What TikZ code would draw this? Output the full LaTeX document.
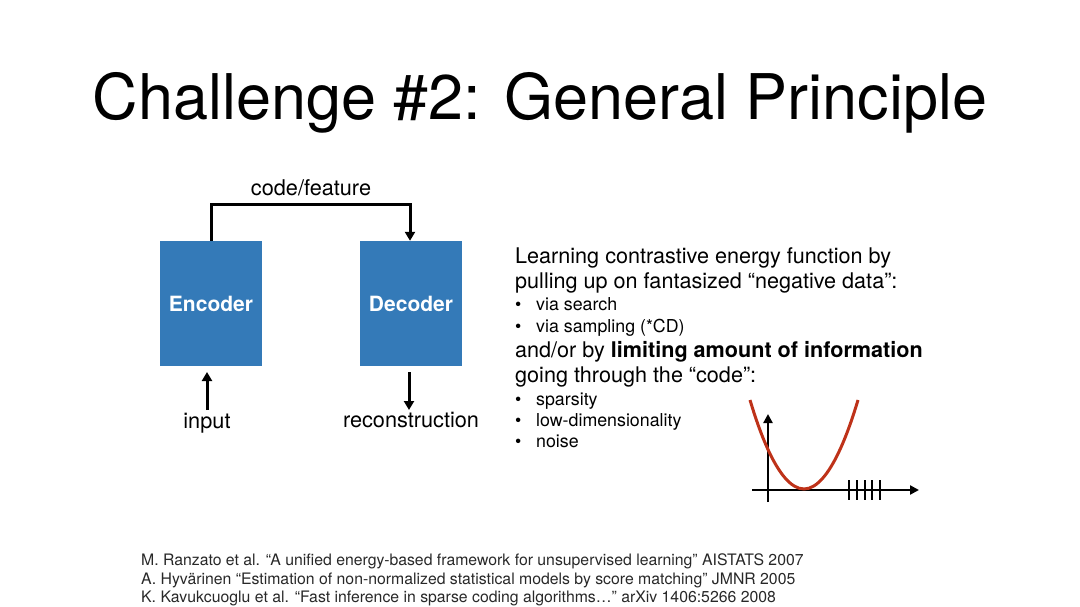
\documentclass[tikz,border=0pt]{standalone}
\usepackage{fontspec}
\setmainfont{TeX Gyre Heros}
\usetikzlibrary{arrows.meta}
\definecolor{boxblue}{RGB}{52,122,184}
\definecolor{curvered}{RGB}{190,50,25}
\definecolor{refgray}{RGB}{40,40,40}
\tikzset{
  blockbox/.style={fill=boxblue, minimum width=102pt, minimum height=125pt, inner sep=0pt, text=white, font=\fontsize{21}{24}\selectfont\bfseries},
  conn/.style={line width=3pt, -{Triangle[length=9pt,width=10pt]}},
  plainline/.style={line width=3pt},
  lbl/.style={inner sep=0pt, font=\fontsize{21.7}{24}\selectfont},
  maintxt/.style={anchor=base west, inner sep=0pt, font=\fontsize{21.6}{24}\selectfont},
  bullettxt/.style={anchor=base west, inner sep=0pt, font=\fontsize{17.8}{20}\selectfont},
  reftxt/.style={anchor=base west, inner sep=0pt, text=refgray, font=\fontsize{15.8}{18}\selectfont},
}
\newcommand{\bul}[1]{\makebox[21pt][l]{•}#1}
\begin{document}
\begin{tikzpicture}[x=1pt,y=-1pt]
\useasboundingbox (0,0) rectangle (1080,607);
% title
\node[anchor=base, inner sep=0pt, font=\fontsize{63}{68}\selectfont] (title) at (540,120) {Challenge \#2: General Principle};
% blocks
\node[blockbox] (enc) at (211,303.5) {Encoder};
\node[blockbox] (dec) at (411,303.5) {Decoder};
\coordinate (cl) at (211,205);
\coordinate (cr) at (410,205);
\draw[plainline] (enc.north -| cl) -- (cl) -- (cr);
\draw[conn] ([yshift=1.5pt]cr) -- (dec.north -| cr);
\node[lbl] (code) at (311,188) {code/feature};
% input / reconstruction
\node[lbl] (input) at (207,423) {input};
\node[lbl] (recon) at (411,420) {reconstruction};
\coordinate (inbot) at (207,410);
\coordinate (intop) at (207,372);
\draw[conn] (inbot) -- (intop);
\coordinate (rtop) at (409,372);
\coordinate (rbot) at (409,410);
\draw[conn] (rtop) -- (rbot);
% right text
\node[maintxt] (l1) at (515,263) {Learning contrastive energy function by};
\node[maintxt] (l2) at (515,288) {pulling up on fantasized “negative data”:};
\node[bullettxt] (b1) at (515,310) {\bul{via search}};
\node[bullettxt] (b2) at (515,332) {\bul{via sampling (*CD)}};
\node[maintxt] (l3) at (515,357) {and/or by \textbf{limiting amount of information}};
\node[maintxt] (l4) at (515,382) {going through the “code”:};
\node[bullettxt] (b3) at (515,405) {\bul{sparsity}};
\node[bullettxt] (b4) at (515,426) {\bul{low-dimensionality}};
\node[bullettxt] (b5) at (515,447) {\bul{noise}};
% graph
\coordinate (yb) at (768,502);
\coordinate (yt) at (768,414);
\coordinate (xl) at (752,490);
\coordinate (xr) at (919,490);
\draw[line width=2.5pt, -{Triangle[length=9pt,width=9pt]}] (yb) -- (yt);
\draw[line width=2.5pt, -{Triangle[length=9pt,width=9pt]}] (xl) -- (xr);
\foreach \tx in {849,857,865,872,880} {
  \draw[line width=2.5pt] (\tx,480) -- (\tx,500);
}
\draw[curvered, line width=3pt] (750,400) parabola bend (804,489) (858,400);
% references
\node[reftxt] (r1) at (141,565) {M. Ranzato et al. “A unified energy-based framework for unsupervised learning” AISTATS 2007};
\node[reftxt] (r2) at (141,584) {A. Hyvärinen “Estimation of non-normalized statistical models by score matching” JMNR 2005};
\node[reftxt] (r3) at (141,602) {K. Kavukcuoglu et al. “Fast inference in sparse coding algorithms…” arXiv 1406:5266 2008};
\end{tikzpicture}
\end{document}
